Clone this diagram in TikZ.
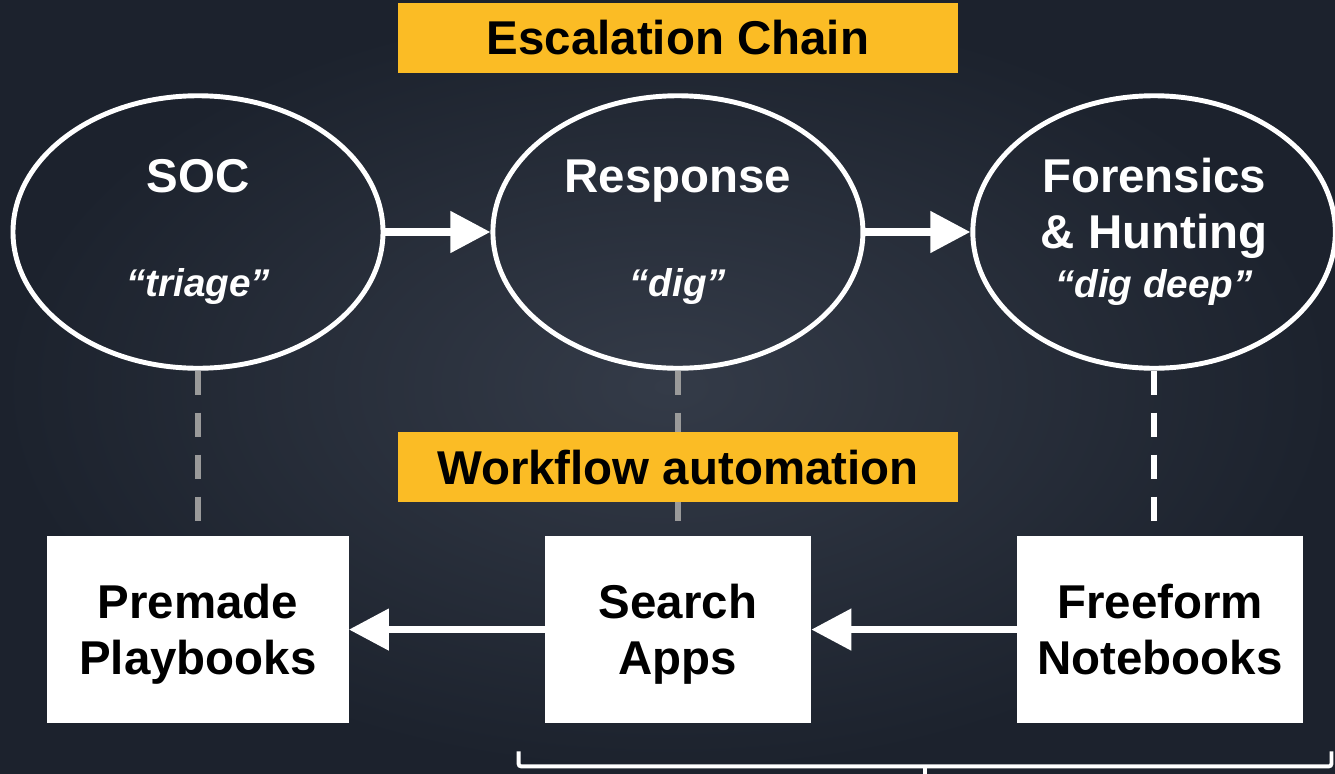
\documentclass[tikz,border=0pt]{standalone}
\usepackage{fontspec}
\setmainfont{Liberation Sans}
\usetikzlibrary{arrows.meta, shapes.geometric, positioning, calc}

\definecolor{chainyellow}{HTML}{FBBC25}
\definecolor{bgouter}{HTML}{1C222D}
\definecolor{bginner}{HTML}{343B48}
\definecolor{dashgray}{HTML}{9A9A9A}

\newcommand{\bigbold}{\fontsize{27}{32}\selectfont\bfseries}
\newcommand{\tagline}[1]{{\fontsize{22}{26}\selectfont\itshape #1}}

\tikzset{
    team/.style={ellipse, draw=white, line width=2.8pt, minimum width=7.4cm, minimum height=5.45cm, inner sep=0pt, text=white, align=center, font=\bigbold},
    tool/.style={rectangle, fill=white, minimum height=3.74cm, text depth=0pt, align=center, font=\bigbold},
    banner/.style={rectangle, fill=chainyellow, minimum width=11.2cm, minimum height=1.4cm, font=\bigbold},
    flow/.style={-{Triangle[length=0.8cm, width=0.8cm]}, white, line width=4.4pt},
    link/.style={line width=3.4pt, dash pattern=on 0.48cm off 0.36cm, shorten >=0.3cm},
    brace/.style={white, line width=2.2pt, rounded corners=1.5pt}
}

\begin{document}
\begin{tikzpicture}
\useasboundingbox (-3.96,4.64) rectangle (22.74,-10.82);
\shade[inner color=bginner, outer color=bgouter] (-3.96,4.64) rectangle (22.74,-10.82);

% escalation chain
\node[team] (soc) at (0,0) {SOC\\[27pt]\tagline{“triage”}};
\node[team, right=2.1cm of soc] (response) {Response\\[27pt]\tagline{“dig”}};
\node[team, right=2.1cm of response, minimum width=7.25cm] (forensics) {Forensics\\\& Hunting\\[-4pt]\tagline{“dig deep”}};
\node[banner, above=0.4cm of response] (chain) {Escalation Chain};

% tooling per stage
\node[tool, minimum width=6.02cm, below=3.3cm of soc] (premade) {Premade\\Playbooks};
\node[tool, minimum width=5.32cm, below=3.3cm of response] (search) {Search\\Apps};
\node[tool, minimum width=5.72cm, below=3.3cm of forensics, xshift=0.12cm] (freeform) {Freeform\\Notebooks};

\draw[link, dashgray] (soc) -- (premade);
\draw[link, dashgray] (response) -- (search);
\draw[link, white] (forensics.south) -- (forensics.south |- freeform.north);

\node[banner, above=0.66cm of search] (workflow) {Workflow automation};

\draw[flow] (soc) -- (response);
\draw[flow] (response) -- (forensics);
\draw[flow] (search) -- (premade);
\draw[flow] (freeform) -- (search);

% bracket under search + notebooks
\coordinate (brace_left) at ([shift={(-0.52cm,-0.56cm)}]search.south west);
\coordinate (brace_right) at ([shift={(0.56cm,-0.56cm)}]freeform.south east);
\draw[brace] (brace_left) -- ++(0,-0.3) -| (brace_right);
\draw[brace] ($(brace_left)!0.5!(brace_right)+(0,-0.3)$) -- ++(0,-0.3);
\end{tikzpicture}
\end{document}
